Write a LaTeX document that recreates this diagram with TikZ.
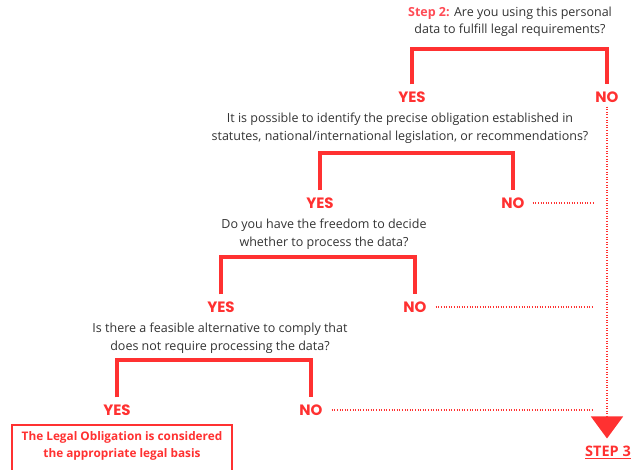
\documentclass[tikz,border=0pt]{standalone}
\usepackage{fontspec}
\setmainfont{Open Sans}
\newfontfamily\labelfont{Poppins}
\usetikzlibrary{positioning, arrows.meta}

\definecolor{flowred}{HTML}{FF3131}
\definecolor{steppink}{HTML}{FF4B55}
\definecolor{qgray}{HTML}{333333}

\tikzset{
  question/.style={align=center, text=qgray, inner sep=1pt,
    font=\fontsize{12.5}{17.5}\selectfont},
  answer/.style={text=flowred, inner sep=1pt,
    font=\labelfont\bfseries\fontsize{15}{17}\selectfont},
  bracket/.style={draw=flowred, line width=4pt},
  dots/.style={draw=flowred, line width=1.4pt, dash pattern=on 1pt off 1.6pt},
}

\begin{document}
\begin{tikzpicture}[x=1pt, y=-1pt]
    \useasboundingbox (0,0) rectangle (633,470);

    % questions
    \node[question] (q1) at (510, 22) {{\color{steppink}\bfseries Step 2:} Are you using this personal\\data to fulfill legal requirements?};
    \node[question] (q2) at (400, 128) {It is possible to identify the precise obligation established in\\statutes, national/international legislation, or recommendations?};
    \node[question] (q3) at (324, 234) {Do you have the freedom to decide\\whether to process the data?};
    \node[question] (q4) at (220, 338) {Is there a feasible alternative to comply that\\does not require processing the data?};

    % answers
    \node[answer] (yes1) at (412, 97) {YES};
    \node[answer] (no1) at (607, 97) {NO};
    \node[answer] (yes2) at (320, 203) {YES};
    \node[answer] (no2) at (513, 203) {NO};
    \node[answer] (yes3) at (221, 307) {YES};
    \node[answer] (no3) at (415, 307) {NO};
    \node[answer] (yes4) at (117, 410) {YES};
    \node[answer] (no4) at (311, 410) {NO};

    \node[draw=flowred, line width=1.6pt, text=flowred, align=center,
      minimum width=220pt, minimum height=62pt, text depth=22pt,
      font=\bfseries\fontsize{11.8}{17}\selectfont] (basis) at (122, 456)
      {The Legal Obligation is considered\\the appropriate legal basis};
    \node[answer, anchor=east, font=\bfseries\fontsize{14.5}{17}\selectfont] (step3) at (632, 452) {\underline{STEP 3}};

    % brackets
    \draw[bracket] ([yshift=6pt]yes1.north) -- ++(0,-35) -| ([yshift=6pt]no1.north);
    \draw[bracket] ([yshift=6pt]yes2.north) -- ++(0,-37) -| ([yshift=6pt]no2.north);
    \draw[bracket] ([yshift=6pt]yes3.north) -- ++(0,-37) -| ([yshift=6pt]no3.north);
    \draw[bracket] ([yshift=6pt]yes4.north) -- ++(0,-37) -| ([yshift=6pt]no4.north);

    % dotted NO paths
    \draw[dots, shorten <=7pt, shorten >=14pt] (no2.east) -- (no2 -| no1);
    \draw[dots, shorten <=8pt, shorten >=14pt] (no3.east) -- (no3 -| no1);
    \draw[dots, shorten <=8pt, shorten >=14pt] (no4.east) -- (no4 -| no1);
    \draw[dots, shorten <=3pt, shorten >=6pt, -{Triangle[width=32pt, length=22pt]}] (no1.south) -- (no1 |- step3.north);
\end{tikzpicture}
\end{document}
